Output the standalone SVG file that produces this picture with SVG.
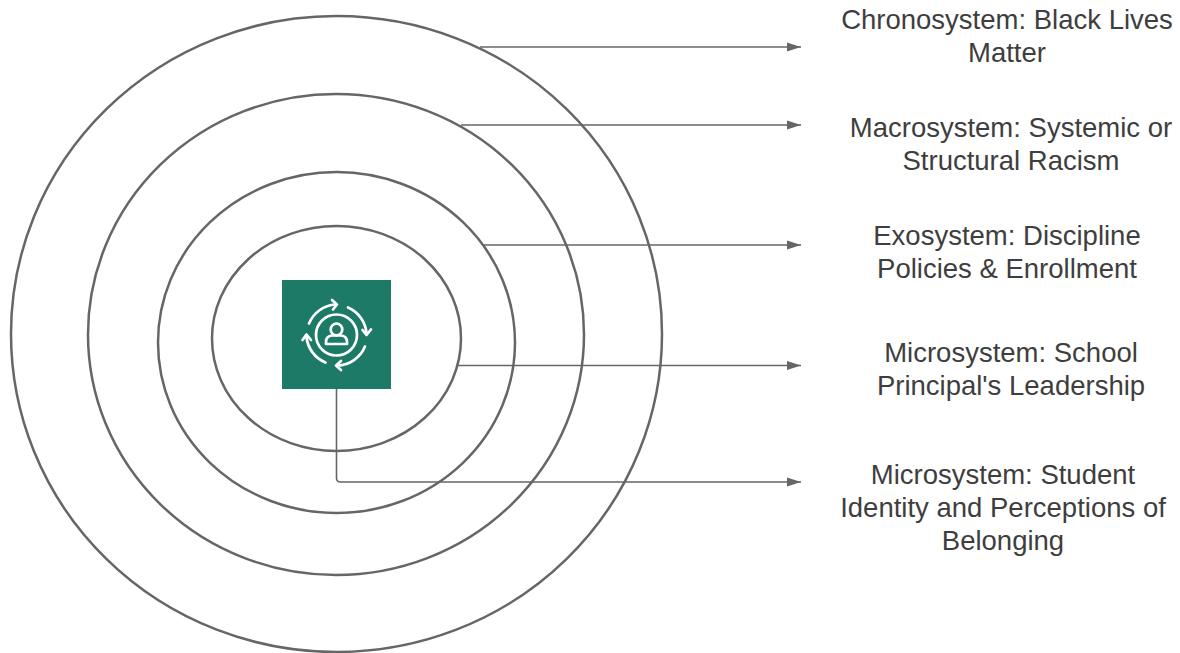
<svg xmlns="http://www.w3.org/2000/svg" width="1180" height="653" viewBox="0 0 1180 653">
<defs>
<style>
.ring{fill:none;stroke:#666;stroke-width:2.5}
.c{fill:none;stroke:#666;stroke-width:1.6}
.ic{fill:none;stroke:#fff;stroke-width:2.7;stroke-linecap:round;stroke-linejoin:round}
text{font-family:"Liberation Sans",Arial,sans-serif;font-size:27.500px;fill:#3e3e3e;text-anchor:middle}
</style>
<marker id="a" markerUnits="userSpaceOnUse" markerWidth="15" markerHeight="10" refX="14" refY="5" orient="auto"><path d="M0 0.500L14 5L0 9.500Z" fill="#666"/></marker>
</defs>
<rect width="1180" height="653" fill="#fff"/>
<g id="ring-chrono"><ellipse class="ring" cx="336.500" cy="334" rx="325.500" ry="318"/></g>
<g id="ring-macro"><ellipse class="ring" cx="336" cy="334.500" rx="248" ry="240.500"/></g>
<g id="ring-exo"><ellipse class="ring" cx="336.500" cy="342.500" rx="178.500" ry="170.500"/></g>
<g id="ring-micro"><ellipse class="ring" cx="336.500" cy="338.500" rx="124.500" ry="112.500"/></g>
<g id="connectors">
<path class="c" marker-end="url(#a)" d="M480 47H801"/>
<path class="c" marker-end="url(#a)" d="M461 125H801"/>
<path class="c" marker-end="url(#a)" d="M483 245H801"/>
<path class="c" marker-end="url(#a)" d="M457 365.500H801"/>
<path class="c" marker-end="url(#a)" d="M336.500 388V478Q336.500 482 340.500 482H801"/>
</g>
<g id="student-icon">
<rect x="282" y="280" width="109" height="109" fill="#1c7a66"/>
<circle class="ic" cx="336.500" cy="335" r="20.500"/>
<circle class="ic" cx="336.500" cy="329.500" r="5.800"/>
<path class="ic" d="M326 344V342Q326 335.500 333 335.500H340Q347 335.500 347 342V344Z"/>
<path class="ic" d="M309 323.500A31 31 0 0 1 335.500 304.500"/>
<path class="ic" d="M332 300L337 304.500L333 309.500"/>
<path class="ic" d="M348 307.500A31 31 0 0 1 366.500 333"/>
<path class="ic" d="M362.500 330L366.500 335L371 329.500"/>
<path class="ic" d="M365 346.500A31 31 0 0 1 337.500 365.500"/>
<path class="ic" d="M341 361L336 365.500L341 370"/>
<path class="ic" d="M325.500 362.500A31 31 0 0 1 306.500 337"/>
<path class="ic" d="M302.500 340L306.500 334.500L311 340"/>
</g>
<g id="label-chrono"><text x="1007" y="29">Chronosystem: Black Lives</text><text x="1007" y="62">Matter</text></g>
<g id="label-macro"><text x="1011" y="137">Macrosystem: Systemic or</text><text x="1011" y="170">Structural Racism</text></g>
<g id="label-exo"><text x="1007" y="245">Exosystem: Discipline</text><text x="1007" y="278">Policies &amp; Enrollment</text></g>
<g id="label-micro-school"><text x="1011" y="362">Microsystem: School</text><text x="1011" y="395">Principal's Leadership</text></g>
<g id="label-micro-student"><text x="1003" y="484">Microsystem: Student</text><text x="1003" y="517">Identity and Perceptions of</text><text x="1003" y="550">Belonging</text></g>
</svg>
